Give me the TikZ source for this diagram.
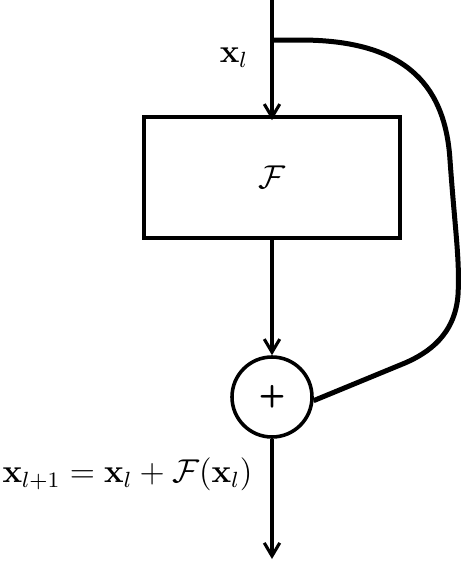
\documentclass[tikz,border=0pt]{standalone}
\usetikzlibrary{arrows.meta}
\newcommand{\biglbl}[1]{\scalebox{1.155}{\large #1}}
\begin{document}
\begin{tikzpicture}[x=0.42pt,y=-0.42pt,
  flow/.style={line width=1.65pt,-{Straight Barb[length=5.5pt,width=6.5pt,line width=1.3pt]}},
  skip/.style={line width=2.1pt},
  blockbox/.style={draw,line width=1.5pt,minimum width=256*0.42pt,minimum height=121*0.42pt,inner sep=0pt},
  sumnode/.style={draw,circle,line width=1.5pt,minimum size=80*0.42pt,inner sep=0pt}]
\useasboundingbox (0,0) rectangle (476,568);
\coordinate (top) at (272,0);
\coordinate (split) at (272,40);
\node[blockbox] (F) at (272,177.5) {\biglbl{$\mathcal{F}$}};
\node[sumnode,font=\fontsize{13}{14}\selectfont\sffamily\bfseries] (sum) at (272,397) {+};
\coordinate (out) at (272,559);
\node (xl) at (234,58) {\biglbl{$\mathbf{x}_l$}};
\node[anchor=east,inner sep=0pt] (eq) at (253,474) {\biglbl{$\mathbf{x}_{l+1}=\mathbf{x}_l+\mathcal{F}(\mathbf{x}_l)$}};
\draw[flow] (top) -- ([yshift=-5*0.42pt]F.north);
\draw[flow] (F.south) -- (sum.north);
\draw[flow] (sum.south) -- (out);
\draw[skip] (split) -- (300,40) .. controls (400,40) and (445,80) .. (450,160)
  .. controls (455,230) and (460,260) .. (458,295)
  .. controls (455,335) and (428,353) .. (405,363) -- (sum.-5);
\end{tikzpicture}
\end{document}
